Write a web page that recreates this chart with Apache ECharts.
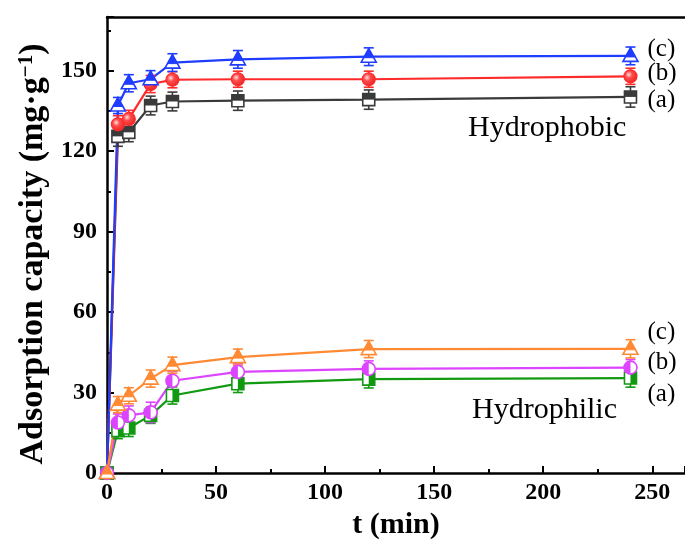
<!DOCTYPE html>
<html><head><meta charset="utf-8">
<script src="https://cdn.jsdelivr.net/npm/echarts@6/dist/echarts.min.js"></script>
<style>html,body{margin:0;padding:0;background:#fff}#c{width:685px;height:545px}</style>
</head><body><div id="c"></div>
<script>
// ---- data ----
const times = [0, 5, 10, 20, 30, 60, 120, 240];
const xTicks = [0, 50, 100, 150, 200, 250];
const yTicks = [0, 30, 60, 90, 120, 150];

const phobA = [0, 125.5, 127, 137, 138.5, 138.8, 139.2, 140.2];
const phobAErr = [0, 3.7, 3.5, 3.5, 3.5, 3.6, 3.6, 3.8];
const phobB = [0, 130, 132, 145, 146.6, 146.8, 146.8, 147.9];
const phobBErr = [0, 3.2, 3.2, 3.2, 3.0, 3.0, 3.0, 3.0];
const phobC = [0, 137, 145.3, 146.8, 153, 154.2, 155.2, 155.5];
const phobCErr = [0, 3.0, 3.2, 3.2, 3.3, 3.3, 3.3, 3.3];

const philA = [0, 15.8, 16.8, 21.5, 28.9, 33.3, 35, 35.4];
const philAErr = [0, 3.0, 3.2, 3.0, 3.2, 3.3, 3.3, 3.4];
const philB = [0, 18.8, 21.5, 22.6, 34.4, 37.7, 38.8, 39.3];
const philBErr = [0, 3.2, 3.5, 3.8, 3.5, 3.0, 3.0, 3.0];
const philC = [0, 25.5, 28.8, 35.2, 40.2, 43.2, 46.2, 46.3];
const philCErr = [0, 3.0, 3.0, 3.2, 3.0, 3.0, 3.2, 3.4];

const seriesDefs = [
  {name: 'phobA', vals: phobA, err: phobAErr, color: '#3a3a3a', shape: 'square', half: 'top', label: '(a)', ldy: 4},
  {name: 'phobB', vals: phobB, err: phobBErr, color: '#ff2a2a', shape: 'circle', half: 'full', label: '(b)', ldy: -3},
  {name: 'phobC', vals: phobC, err: phobCErr, color: '#1f3dff', shape: 'triangle', half: 'top', label: '(c)', ldy: -6},
  {name: 'philA', vals: philA, err: philAErr, color: '#119a11', shape: 'square', half: 'right', label: '(a)', ldy: 16},
  {name: 'philB', vals: philB, err: philBErr, color: '#dd44ff', shape: 'circle', half: 'left', label: '(b)', ldy: -5},
  {name: 'philC', vals: philC, err: philCErr, color: '#ff8a33', shape: 'triangle', half: 'top', label: '(c)', ldy: -16}
];

const SERIF = '"Liberation Serif", "Times New Roman", serif';

function errRender(color) {
  return function (params, api) {
    const x = api.value(0), y = api.value(1), e = api.value(2);
    if (!e) return null;
    const p1 = api.coord([x, y + e]);
    const p2 = api.coord([x, y - e]);
    const w = 5;
    const st = {stroke: color, lineWidth: 1.6};
    return {type: 'group', children: [
      {type: 'line', shape: {x1: p1[0], y1: p1[1], x2: p2[0], y2: p2[1]}, style: st},
      {type: 'line', shape: {x1: p1[0] - w, y1: p1[1], x2: p1[0] + w, y2: p1[1]}, style: st},
      {type: 'line', shape: {x1: p2[0] - w, y1: p2[1], x2: p2[0] + w, y2: p2[1]}, style: st}
    ]};
  };
}

function markerRender(def) {
  const color = def.color;
  const last = times.length - 1;
  return function (params, api) {
    const p = api.coord([api.value(0), api.value(1)]);
    const x = p[0], y = p[1];
    const kids = [];
    const outline = {stroke: color, lineWidth: 1.6, fill: '#fff'};
    if (def.shape === 'triangle') {
      const s = 7.5, top = y - 8, base = y + 5.5;
      kids.push({type: 'polygon', shape: {points: [[x, top], [x - s, base], [x + s, base]]}, style: outline});
      const cut = y + 1;
      const f = (cut - top) / (base - top);
      kids.push({type: 'polygon', shape: {points: [[x, top], [x - s * f, cut], [x + s * f, cut]]}, style: {fill: color, stroke: color, lineWidth: 1}});
    } else if (def.shape === 'square') {
      const s = 6;
      kids.push({type: 'rect', shape: {x: x - s, y: y - s, width: 2 * s, height: 2 * s}, style: outline});
      if (def.half === 'top') kids.push({type: 'rect', shape: {x: x - s, y: y - s, width: 2 * s, height: s}, style: {fill: color}});
      else kids.push({type: 'rect', shape: {x: x, y: y - s, width: s, height: 2 * s}, style: {fill: color}});
    } else {
      const r = 6.5;
      if (def.half === 'full') {
        kids.push({type: 'circle', shape: {cx: x, cy: y, r: r}, style: {
          fill: {type: 'radial', x: 0.38, y: 0.38, r: 0.7, colorStops: [
            {offset: 0, color: '#ffe0e0'}, {offset: 0.35, color: '#ff4a4a'}, {offset: 1, color: '#e61e1e'}]},
          stroke: color, lineWidth: 1.2}});
      } else {
        kids.push({type: 'circle', shape: {cx: x, cy: y, r: r}, style: outline});
        kids.push({type: 'sector', shape: {cx: x, cy: y, r: r, r0: 0, startAngle: Math.PI / 2, endAngle: Math.PI * 1.5}, style: {fill: color}});
      }
    }
    if (params.dataIndex === last) {
      kids.push({type: 'text', x: x + 17, y: y + def.ldy, style: {
        text: def.label, fontSize: 25, fontFamily: SERIF, fill: '#000', align: 'left', verticalAlign: 'middle'}});
    }
    return {type: 'group', children: kids};
  };
}

const series = [];
seriesDefs.forEach(function (d) {
  series.push({type: 'line', name: d.name, data: times.map((t, i) => [t, d.vals[i]]),
    symbol: 'none', lineStyle: {color: d.color, width: 2.2}, z: 2, silent: true, animation: false});
});
seriesDefs.forEach(function (d) {
  series.push({type: 'custom', data: times.map((t, i) => [t, d.vals[i], d.err[i]]),
    renderItem: errRender(d.color), clip: true, z: 3, silent: true, animation: false});
});
seriesDefs.forEach(function (d) {
  series.push({type: 'custom', data: times.map((t, i) => [t, d.vals[i]]),
    renderItem: markerRender(d), clip: false, z: 4, silent: true, animation: false});
});

const chart = echarts.init(document.getElementById('c'), null, {renderer: 'canvas'});
const axisLineStyle = {color: '#000', width: 2.5};
chart.setOption({
  backgroundColor: '#fff',
  animation: false,
  grid: {left: 107, right: 0, top: 17, bottom: 72, containLabel: false},
  xAxis: [{
    type: 'value', min: 0, max: 265, interval: 50,
    name: 't (min)', nameLocation: 'middle', nameGap: 33,
    nameTextStyle: {fontFamily: SERIF, fontWeight: 'bold', fontSize: 30, color: '#000'},
    axisLine: {show: true, onZero: false, lineStyle: axisLineStyle},
    axisTick: {show: true, inside: true, length: 7, lineStyle: {color: '#000', width: 2}},
    minorTick: {show: true, splitNumber: 2, length: 4, lineStyle: {color: '#000', width: 2}},
    axisLabel: {fontFamily: SERIF, fontWeight: 'bold', fontSize: 24, color: '#000', margin: 8,
      customValues: xTicks, formatter: v => String(v)},
    splitLine: {show: false}
  }, {
    type: 'value', min: 0, max: 265, position: 'top',
    axisLine: {show: true, onZero: false, lineStyle: axisLineStyle},
    axisTick: {show: false}, axisLabel: {show: false}, splitLine: {show: false}
  }],
  yAxis: [{
    type: 'value', min: 0, max: 170, interval: 30,
    name: 'Adsorption capacity (mg·g{sup|−1})', nameLocation: 'middle', nameGap: 49,
    nameTextStyle: {fontFamily: SERIF, fontWeight: 'bold', fontSize: 34, color: '#000', padding: [0, 18, 0, 0],
      rich: {sup: {fontFamily: SERIF, fontWeight: 'bold', fontSize: 21, color: '#000', verticalAlign: 'top', padding: [0, 0, 14, 0]}}},
    axisLine: {show: true, onZero: false, lineStyle: axisLineStyle},
    axisTick: {show: true, inside: true, length: 7, lineStyle: {color: '#000', width: 2}},
    minorTick: {show: true, splitNumber: 2, length: 4, lineStyle: {color: '#000', width: 2}},
    axisLabel: {fontFamily: SERIF, fontWeight: 'bold', fontSize: 24, color: '#000', margin: 10,
      customValues: yTicks, formatter: v => String(v)},
    splitLine: {show: false}
  }],
  graphic: [
    {type: 'text', left: 468, top: 113, style: {text: 'Hydrophobic', fontSize: 30, fontFamily: SERIF, fill: '#000'}},
    {type: 'text', left: 472, top: 395, style: {text: 'Hydrophilic', fontSize: 30, fontFamily: SERIF, fill: '#000'}}
  ],
  series: series
});
</script>
</body></html>
